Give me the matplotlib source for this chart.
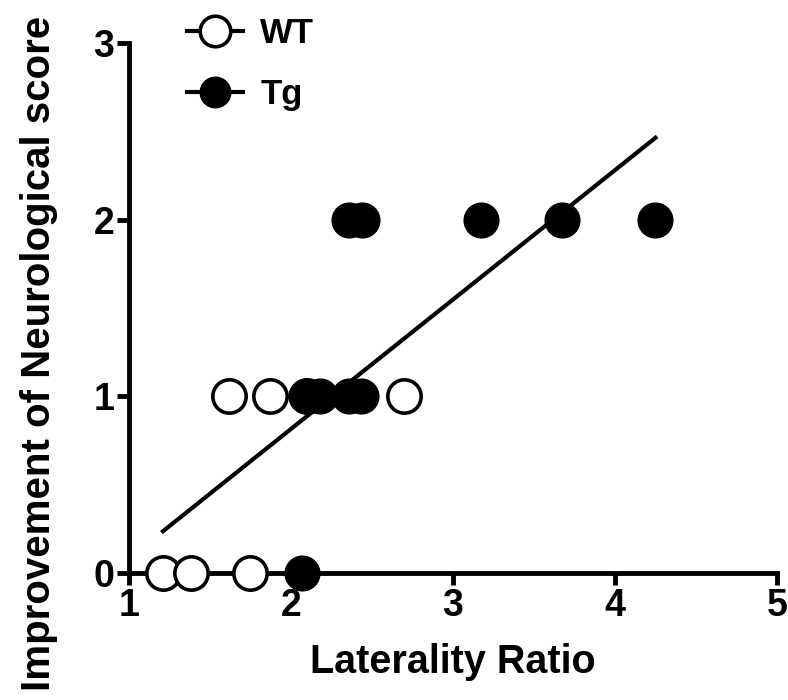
import numpy as np
import matplotlib
matplotlib.use('Agg')
import matplotlib.pyplot as plt
from matplotlib.lines import Line2D

plt.rcParams['font.family'] = ['Liberation Sans', 'DejaVu Sans']
plt.rcParams['font.weight'] = 'bold'

# values
wt_x = [1.21, 1.38, 1.75, 1.62, 1.87, 2.10, 2.70]
wt_y = [0, 0, 0, 1, 1, 1, 1]
tg_x = [2.07, 2.09, 2.18, 2.36, 2.43, 2.36, 2.44, 3.17, 3.67, 4.25]
tg_y = [0, 1, 1, 1, 1, 2, 2, 2, 2, 2]

x_all = np.array(wt_x + tg_x)
y_all = np.array(wt_y + tg_y)
slope, intercept = np.polyfit(x_all, y_all, 1)
fx = np.array([x_all.min(), x_all.max()])

fig = plt.figure(figsize=(7.88, 7.0), dpi=100)
ax = fig.add_axes([0.1637, 0.1814, 0.986 - 0.1637, 0.9386 - 0.1814])

ax.plot(fx, slope * fx + intercept, color='black', lw=3, zorder=2)
ax.plot(wt_x, wt_y, 'o', ms=24, mfc='white', mec='black', mew=2.6,
        ls='none', clip_on=False, zorder=3)
ax.plot(tg_x, tg_y, 'o', ms=25, mfc='black', mec='black', mew=1,
        ls='none', clip_on=False, zorder=4)

ax.set_xlim(1, 5)
ax.set_ylim(0, 3)
ax.set_xticks([1, 2, 3, 4, 5])
ax.set_yticks([0, 1, 2, 3])
for s in ('top', 'right'):
    ax.spines[s].set_visible(False)
for s in ('left', 'bottom'):
    ax.spines[s].set_linewidth(3.5)
ax.tick_params(width=3.5, length=8.5, labelsize=27, pad=2)

ax.set_xlabel('Laterality Ratio', fontsize=28.5, fontweight='bold', labelpad=14)
ax.set_ylabel('Improvement of Neurological score', fontsize=29, fontweight='bold')
ax.yaxis.set_label_coords(-0.11, 0.415)

# legend: marker with a short line through it
h_wt = Line2D([], [], color='black', lw=3, marker='o', ms=22, mfc='white',
              mec='black', mew=2.6)
h_tg = Line2D([], [], color='black', lw=3, marker='o', ms=22, mfc='black',
              mec='black')
fig.legend(handles=[h_wt, h_tg], labels=['WT', 'Tg'],
           loc='upper left', bbox_to_anchor=(0.198, 1.02), frameon=False,
           handlelength=1.6, handletextpad=0.5, labelspacing=0.8,
           prop={'weight': 'bold', 'size': 25})

fig.savefig('out.png', dpi=100)
